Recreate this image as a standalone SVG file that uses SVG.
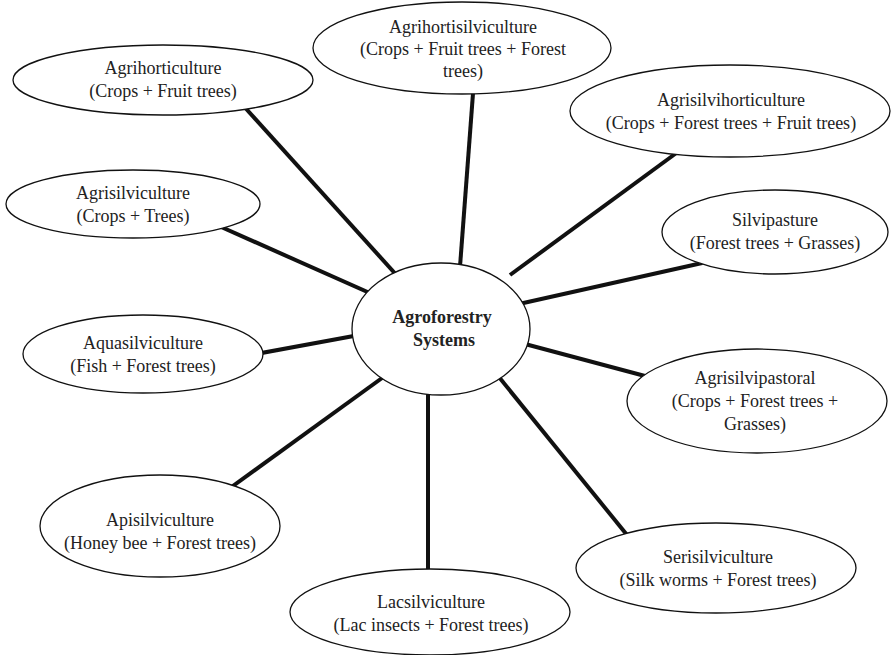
<svg xmlns="http://www.w3.org/2000/svg" width="892" height="655" viewBox="0 0 892 655">
  <style>
    .bg { fill: #ffffff; }
    .node ellipse { fill: #ffffff; stroke: #111111; stroke-width: 1.3; }
    .node text { font-family: "Liberation Serif", "Times New Roman", serif; font-size: 18px; fill: #222222; text-anchor: middle; }
    .hub text { font-weight: bold; }
    .links line { stroke: #111111; stroke-width: 4; stroke-linecap: butt; }
  </style>
  <rect class="bg" x="0" y="0" width="892" height="655"/>

  <!-- spokes: drawn first, ellipse fills hide the ends -->
  <g id="connectors" class="links">
    <line x1="230" y1="91" x2="410" y2="290"/>
    <line x1="474" y1="80" x2="459" y2="280"/>
    <line x1="690" y1="143" x2="510" y2="275"/>
    <line x1="210" y1="222" x2="390" y2="302"/>
    <line x1="720" y1="259" x2="510" y2="306"/>
    <line x1="245" y1="356" x2="370" y2="333"/>
    <line x1="660" y1="380" x2="510" y2="340"/>
    <line x1="215" y1="499" x2="400" y2="365"/>
    <line x1="640" y1="551" x2="490" y2="366"/>
    <line x1="428" y1="380" x2="428" y2="590"/>
  </g>

  <g id="hub" class="node hub">
    <ellipse cx="441" cy="329" rx="89" ry="66"/>
    <text x="442" y="323">Agroforestry</text>
    <text x="444" y="346">Systems</text>
  </g>

  <g id="agrihorticulture" class="node">
    <ellipse cx="163" cy="80" rx="150" ry="35"/>
    <text x="163" y="74">Agrihorticulture</text>
    <text x="163" y="97">(Crops + Fruit trees)</text>
  </g>

  <g id="agrihortisilviculture" class="node">
    <ellipse cx="462" cy="48" rx="149" ry="46"/>
    <text x="463" y="33">Agrihortisilviculture</text>
    <text x="463" y="55">(Crops + Fruit trees + Forest</text>
    <text x="463" y="77">trees)</text>
  </g>

  <g id="agrisilvihorticulture" class="node">
    <ellipse cx="730" cy="111" rx="160" ry="46"/>
    <text x="731" y="106">Agrisilvihorticulture</text>
    <text x="731" y="129">(Crops + Forest trees + Fruit trees)</text>
  </g>

  <g id="agrisilviculture" class="node">
    <ellipse cx="133" cy="204" rx="127" ry="34"/>
    <text x="133" y="199">Agrisilviculture</text>
    <text x="133" y="222">(Crops + Trees)</text>
  </g>

  <g id="silvipasture" class="node">
    <ellipse cx="775" cy="232" rx="113" ry="42"/>
    <text x="775" y="226">Silvipasture</text>
    <text x="775" y="249">(Forest trees + Grasses)</text>
  </g>

  <g id="aquasilviculture" class="node">
    <ellipse cx="143" cy="354" rx="120" ry="39"/>
    <text x="143" y="349">Aquasilviculture</text>
    <text x="143" y="372">(Fish + Forest trees)</text>
  </g>

  <g id="agrisilvipastoral" class="node">
    <ellipse cx="757" cy="401" rx="130" ry="52"/>
    <text x="755" y="384">Agrisilvipastoral</text>
    <text x="755" y="407">(Crops + Forest trees +</text>
    <text x="755" y="430">Grasses)</text>
  </g>

  <g id="apisilviculture" class="node">
    <ellipse cx="160" cy="526" rx="120" ry="51"/>
    <text x="160" y="526">Apisilviculture</text>
    <text x="160" y="549">(Honey bee + Forest trees)</text>
  </g>

  <g id="serisilviculture" class="node">
    <ellipse cx="716" cy="568" rx="140" ry="45"/>
    <text x="718" y="563">Serisilviculture</text>
    <text x="718" y="586">(Silk worms + Forest trees)</text>
  </g>

  <g id="lacsilviculture" class="node">
    <ellipse cx="430" cy="612" rx="140" ry="43"/>
    <text x="431" y="608">Lacsilviculture</text>
    <text x="431" y="631">(Lac insects + Forest trees)</text>
  </g>
</svg>
